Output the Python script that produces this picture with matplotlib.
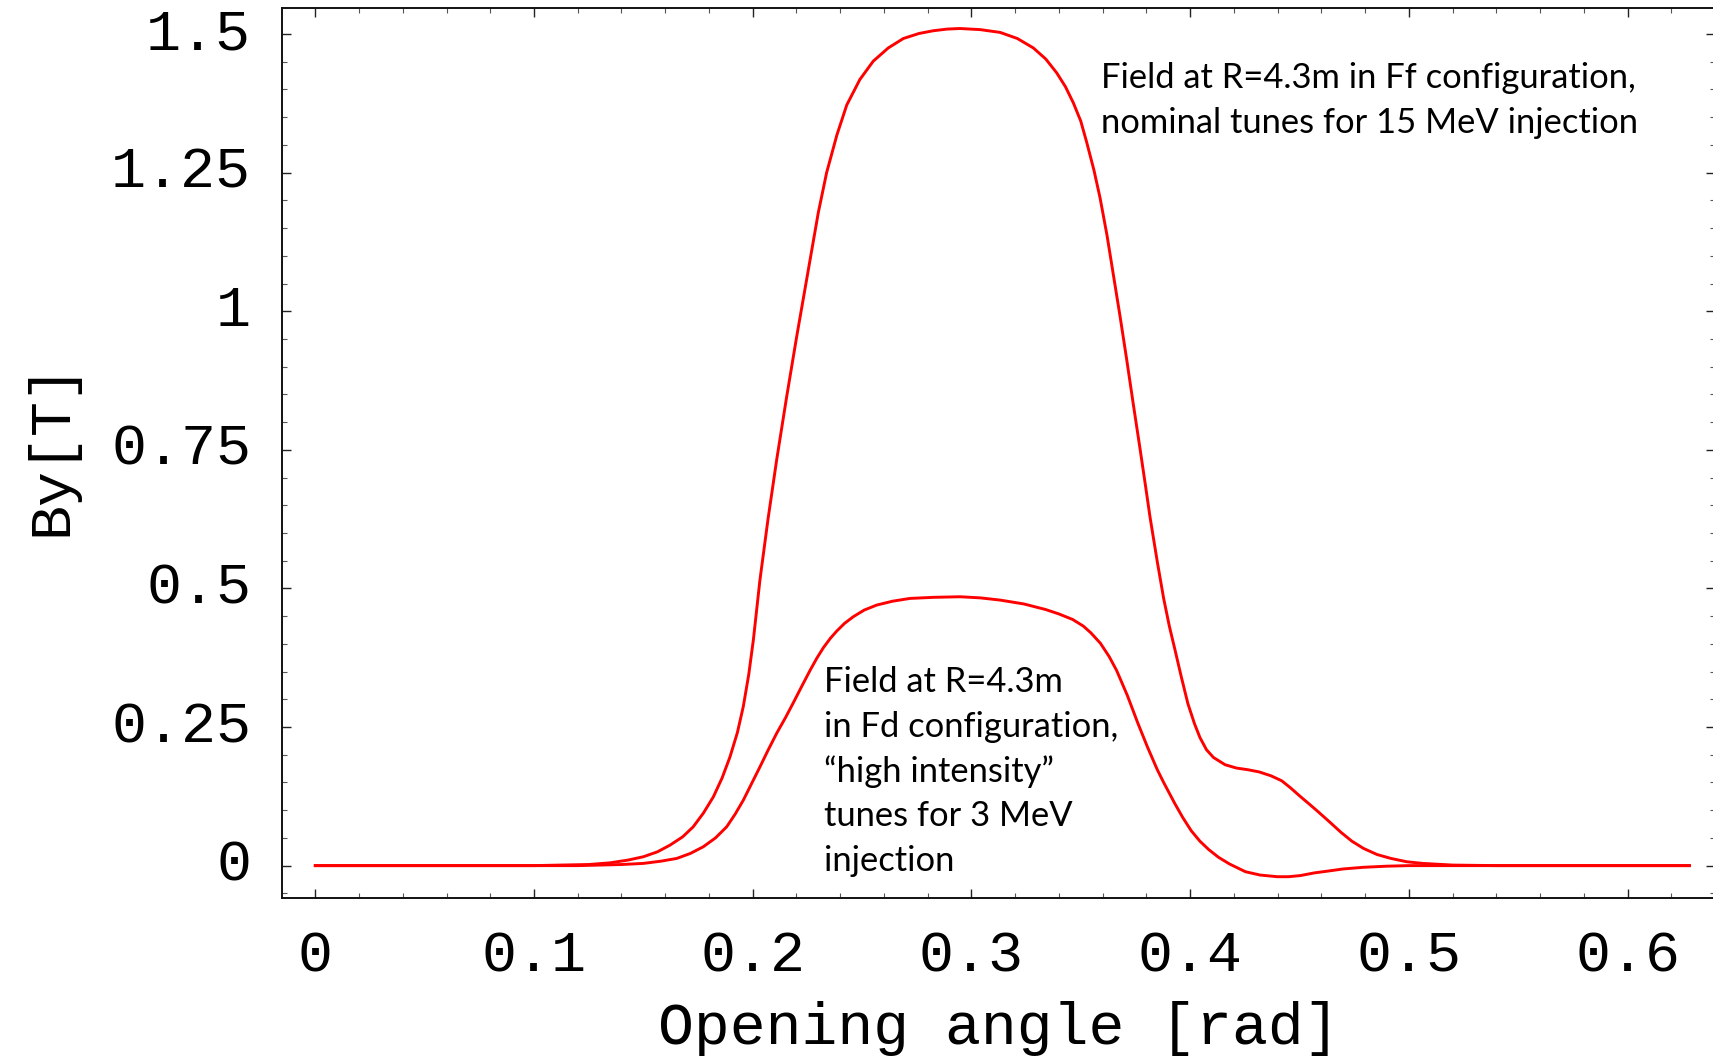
import matplotlib
matplotlib.use("Agg")
import matplotlib.pyplot as plt
from matplotlib.ticker import MultipleLocator
from matplotlib.transforms import ScaledTranslation

# Field profiles By(theta) along the sector, R = 4.3 m
# Ff configuration, nominal tunes (15 MeV injection)
theta_ff = [0.000, 0.100, 0.112, 0.125, 0.1347, 0.1430, 0.1500, 0.1565, 0.1622,
            0.1680, 0.1728, 0.1775, 0.1820, 0.1860, 0.1896, 0.1930, 0.1957, 0.1982,
            0.2003, 0.2033, 0.2070, 0.2110, 0.2155, 0.2201, 0.2262, 0.2300, 0.2338,
            0.2385, 0.2430, 0.2490, 0.2551, 0.2620, 0.2689, 0.2760, 0.2826, 0.2890,
            0.2948, 0.3040, 0.3131, 0.3210, 0.3283, 0.3340, 0.3390, 0.3430, 0.3466,
            0.3500, 0.3527, 0.3560, 0.3588, 0.3620, 0.3649, 0.3680, 0.3710, 0.3740,
            0.3771, 0.3795, 0.3817, 0.3850, 0.3879, 0.3905, 0.3931, 0.3960, 0.3990,
            0.4020, 0.4045, 0.4075, 0.4107, 0.4160, 0.4212, 0.4264, 0.4316, 0.4370,
            0.4419, 0.4460, 0.4503, 0.4545, 0.4586, 0.4640, 0.4690, 0.4740, 0.4793,
            0.4855, 0.4918, 0.4990, 0.5063, 0.5200, 0.5400, 0.6283]
by_ff = [0.000, 0.000, 0.001, 0.002, 0.005, 0.010, 0.016, 0.025, 0.037,
         0.052, 0.070, 0.095, 0.124, 0.158, 0.196, 0.240, 0.287, 0.345,
         0.407, 0.515, 0.625, 0.733, 0.845, 0.954, 1.092, 1.178, 1.250,
         1.318, 1.372, 1.418, 1.451, 1.475, 1.492, 1.501, 1.506, 1.509,
         1.510, 1.508, 1.503, 1.492, 1.475, 1.455, 1.430, 1.405, 1.376,
         1.343, 1.305, 1.255, 1.205, 1.137, 1.066, 0.990, 0.913, 0.833,
         0.752, 0.688, 0.628, 0.548, 0.482, 0.432, 0.389, 0.340, 0.292,
         0.256, 0.231, 0.209, 0.195, 0.182, 0.176, 0.173, 0.169, 0.162,
         0.153, 0.140, 0.125, 0.111, 0.097, 0.078, 0.060, 0.044, 0.031,
         0.020, 0.013, 0.007, 0.004, 0.001, 0.000, 0.000]

# Fd configuration, "high intensity" tunes (3 MeV injection)
theta_fd = [0.000, 0.120, 0.140, 0.1500, 0.1580, 0.1653, 0.1715, 0.1774, 0.1830,
            0.1881, 0.1920, 0.1957, 0.1995, 0.2033, 0.2070, 0.2110, 0.2150, 0.2186,
            0.2225, 0.2262, 0.2293, 0.2323, 0.2355, 0.2384, 0.2420, 0.2460, 0.2510,
            0.2567, 0.2640, 0.2719, 0.2830, 0.2948, 0.3040, 0.3131, 0.3240, 0.3339,
            0.3400, 0.3463, 0.3512, 0.3546, 0.3590, 0.3630, 0.3664, 0.3713, 0.3760,
            0.3806, 0.3850, 0.3879, 0.3930, 0.3966, 0.4005, 0.4045, 0.4085, 0.4130,
            0.4180, 0.4253, 0.4320, 0.4399, 0.4450, 0.4503, 0.4570, 0.4627, 0.4700,
            0.4793, 0.4900, 0.5000, 0.6283]
by_fd = [0.000, 0.000, 0.002, 0.004, 0.008, 0.013, 0.022, 0.034, 0.050,
         0.070, 0.093, 0.118, 0.148, 0.178, 0.208, 0.239, 0.267, 0.294,
         0.324, 0.352, 0.374, 0.393, 0.410, 0.423, 0.437, 0.449, 0.461,
         0.470, 0.477, 0.482, 0.484, 0.485, 0.483, 0.479, 0.472, 0.462,
         0.454, 0.444, 0.432, 0.420, 0.401, 0.377, 0.352, 0.307, 0.258,
         0.213, 0.173, 0.150, 0.112, 0.087, 0.063, 0.044, 0.029, 0.015,
         0.003, -0.011, -0.017, -0.020, -0.020, -0.018, -0.013, -0.010, -0.006,
         -0.003, -0.001, 0.000, 0.000]

x_major = [0.0, 0.1, 0.2, 0.3, 0.4, 0.5, 0.6]
x_labels = ["0", "0.1", "0.2", "0.3", "0.4", "0.5", "0.6"]
y_major = [0.0, 0.25, 0.5, 0.75, 1.0, 1.25, 1.5]
y_labels = ["0", "0.25", "0.5", "0.75", "1", "1.25", "1.5"]

ff_note = ["Field at R=4.3m in Ff configuration,",
           "nominal tunes for 15 MeV injection"]
fd_note = ["Field at R=4.3m",
           "in Fd configuration,",
           "\u201chigh intensity\u201d",
           "tunes for 3 MeV",
           "injection"]

W, H = 1713, 1056
fig = plt.figure(figsize=(W / 100, H / 100), dpi=100)
fig.patch.set_facecolor("white")

# frame in pixel units
left_px, right_px, top_px, bottom_px = 281.7, 1715.0, 8.0, 898.0
ax = fig.add_axes([left_px / W, 1 - bottom_px / H,
                   (right_px - left_px) / W, (bottom_px - top_px) / H])

ax.plot(theta_ff, by_ff, color="#ff0000", lw=2.1, solid_joinstyle="round")
ax.plot(theta_fd, by_fd, color="#ff0000", lw=2.1, solid_joinstyle="round")

ax.set_xlim(-0.01536, 0.6400)
ax.set_ylim(-0.0584, 1.547)

mono = "Liberation Mono"
ax.set_xticks(x_major)
ax.set_xticklabels(x_labels, fontfamily=mono, fontsize=42)
ax.set_yticks(y_major)
ax.set_yticklabels(y_labels, fontfamily=mono, fontsize=42)
ax.xaxis.set_minor_locator(MultipleLocator(0.02))
ax.yaxis.set_minor_locator(MultipleLocator(0.05))

ax.tick_params(which="both", direction="in", top=True, right=True,
               labeltop=False, labelright=False, color="#222222")
ax.tick_params(which="major", length=6.5, width=1.0)
ax.tick_params(which="minor", length=3.6, width=0.8, color="#555555")
ax.tick_params(axis="x", which="major", pad=23)
ax.tick_params(axis="y", which="major", pad=22)

# lift the y tick labels so the digits sit centred on their ticks
lift = ScaledTranslation(0, 6 / 100, fig.dpi_scale_trans)
for lab in ax.get_yticklabels():
    lab.set_transform(lab.get_transform() + lift)

for sp in ax.spines.values():
    sp.set_linewidth(1.4)
    sp.set_color("#111111")

ax.set_xlabel("Opening angle [rad]", fontfamily=mono, fontsize=43, va="center")
ax.xaxis.set_label_coords(0.5, (bottom_px - 1028) / (bottom_px - top_px))
ax.set_ylabel("By[T]", fontfamily=mono, fontsize=42, va="center")
ax.yaxis.set_label_coords((51 - left_px) / (right_px - left_px),
                          (bottom_px - 449) / (bottom_px - top_px))

note_font = dict(family="Lato", size=24.8, color="black")
step = 44.8
for i, line in enumerate(ff_note):
    fig.text(1101 / W, 1 - (88.3 + i * step) / H, line, ha="left",
             va="baseline", **note_font)
for i, line in enumerate(fd_note):
    fig.text(824 / W, 1 - (692 + i * step) / H, line, ha="left",
             va="baseline", **note_font)

fig.savefig("out.png", dpi=100, facecolor="white")
